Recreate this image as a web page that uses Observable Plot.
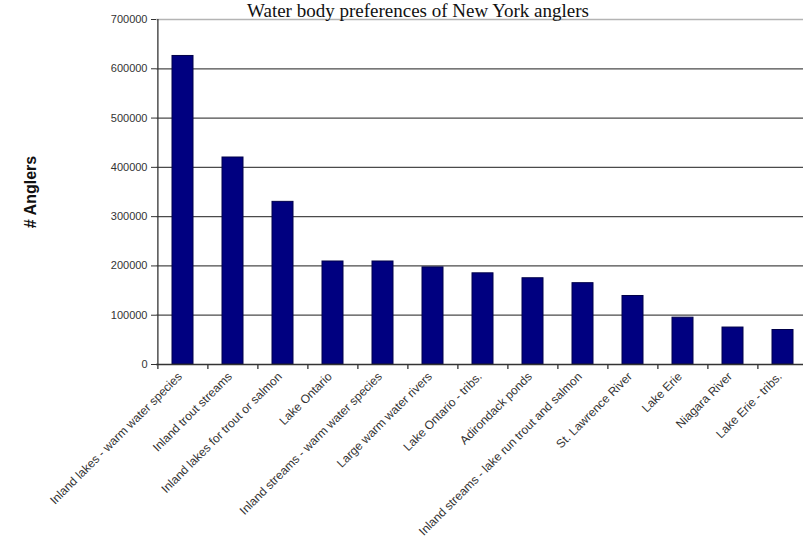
<!DOCTYPE html>
<html>
<head>
<meta charset="utf-8">
<script src="https://cdn.jsdelivr.net/npm/d3@7"></script>
<script src="https://cdn.jsdelivr.net/npm/@observablehq/plot@0.6"></script>
<style>
  html, body { margin: 0; padding: 0; background: #fff; overflow: hidden; width: 803px; height: 540px; }
  #wrap { position: relative; width: 803px; height: 540px; overflow: hidden; }
  #title { position: absolute; left: 0; top: 0; width: 836px; text-align: center;
           font-family: "Liberation Serif", "Times New Roman", serif; font-size: 19px;
           line-height: 21px; color: #111; white-space: nowrap; z-index: 2; }
  #chart { position: absolute; left: 0; top: 0; width: 803px; height: 540px; overflow: hidden; }
  #chart svg { overflow: hidden; }
</style>
</head>
<body>
<div id="wrap">
<div id="chart"></div>
<div id="title">Water body preferences of New York anglers</div>
</div>
<script>
const categories = [
  "Inland lakes - warm water species",
  "Inland trout streams",
  "Inland lakes for trout or salmon",
  "Lake Ontario",
  "Inland streams - warm water species",
  "Large warm water rivers",
  "Lake Ontario - tribs.",
  "Adirondack ponds",
  "Inland streams - lake run trout and salmon",
  "St. Lawrence River",
  "Lake Erie",
  "Niagara River",
  "Lake Erie - tribs."
];
const anglers = [626000, 420000, 330000, 209000, 209000, 197000, 185000, 175000, 165000, 139000, 95000, 75000, 70000];
const yTicks = [0, 100000, 200000, 300000, 400000, 500000, 600000, 700000];

const data = categories.map((c, i) => ({category: c, anglers: anglers[i]}));

// The plot area runs past the right edge of the picture, as in the reference.
const W = 803, H = 540, ML = 156, MR = -6, MT = 19, MB = 176;
const step = (W - ML - MR) / categories.length;

const chart = Plot.plot({
  width: W,
  height: H,
  marginLeft: ML,
  marginRight: MR,
  marginTop: MT,
  marginBottom: MB,
  style: {fontFamily: "'Liberation Sans', Arial, sans-serif", fontSize: "11px", color: "#333", background: "#fff", overflow: "hidden"},
  x: {type: "band", domain: categories, paddingInner: 0.58, paddingOuter: 0.29, label: null},
  y: {domain: [0, 700000], label: null},
  marks: [
    Plot.ruleY(yTicks.filter(v => v > 0 && v < 700000), {stroke: "#4a4a4a", strokeWidth: 1.3}),
    Plot.ruleY([700000], {stroke: "#b4b4b4", strokeWidth: 1.5}),
    Plot.barY(data, {x: "category", y: "anglers", fill: "#000080", stroke: "#00004a", strokeWidth: 1}),
    Plot.ruleY([0], {stroke: "#333", strokeWidth: 1.3}),
    Plot.ruleX([categories[0]], {y1: 0, y2: 700000, dx: -step / 2, stroke: "#333", strokeWidth: 1.3}),
    Plot.ruleX(categories, {y1: 0, y2: 0, dx: -step / 2, insetBottom: -5, stroke: "#333", strokeWidth: 1.3}),
    Plot.axisY({ticks: yTicks, tickSize: 5, tickPadding: 4, tickFormat: d3.format("d"), fontSize: 11, label: null, stroke: "#333"}),
    Plot.axisX({tickSize: 0, tickRotate: -45, tickPadding: 10, dx: -3, fontSize: 12, label: null}),
    Plot.text(["# Anglers"], {frameAnchor: "left", dx: -126, rotate: -90, textAnchor: "middle", fontWeight: "bold", fontSize: 16, fill: "#111"})
  ]
});
document.getElementById("chart").appendChild(chart);
</script>
</body>
</html>
